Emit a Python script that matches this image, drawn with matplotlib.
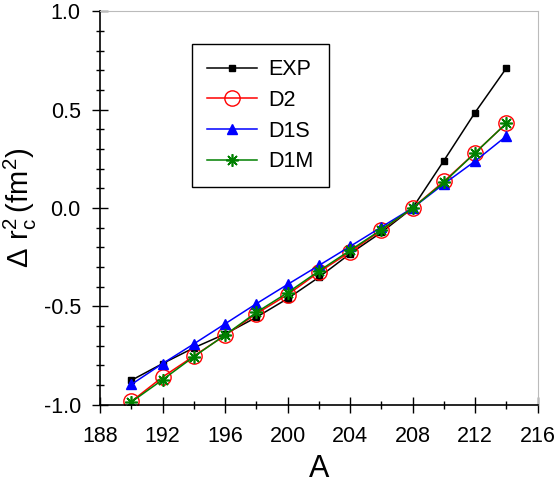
import numpy as np
import matplotlib
matplotlib.use('Agg')
import matplotlib.pyplot as plt
from matplotlib.ticker import MultipleLocator, FormatStrFormatter

plt.rcParams['font.family'] = ['Liberation Sans', 'DejaVu Sans']

# mass number A
A = [190, 192, 194, 196, 198, 200, 202, 204, 206, 208, 210, 212, 214]

# Delta r_c^2 (fm^2)
exp = [-0.875, -0.79, -0.71, -0.64, -0.555, -0.46, -0.352, -0.232, -0.124, 0.0, 0.24, 0.485, 0.71]
d2 = [-0.982, -0.858, -0.752, -0.646, -0.537, -0.44, -0.326, -0.223, -0.113, 0.0, 0.135, 0.28, 0.43]
d1s = [-0.896, -0.79, -0.69, -0.588, -0.486, -0.388, -0.292, -0.195, -0.097, 0.0, 0.122, 0.238, 0.365]
d1m = [-0.985, -0.872, -0.755, -0.645, -0.53, -0.43, -0.32, -0.215, -0.11, 0.0, 0.13, 0.28, 0.43]

fig = plt.figure(figsize=(5.57, 4.86), dpi=100, facecolor='w')
ax = fig.add_axes([0.18, 0.167, 0.785, 0.81])

ax.plot(A, exp, color='black', lw=1.1, marker='s', ms=5, label='EXP')
ax.plot(A, d2, color='red', lw=1.1, marker='o', ms=11, mfc='none', mec='red', mew=1.0, label='D2')
ax.plot(A, d1s, color='blue', lw=1.1, marker='^', ms=7, label='D1S')
ax.plot(A, d1m, color='green', lw=1.1, marker=(8, 2, 0), ms=9, mew=1.2, label='D1M')

ax.set_xlim(188, 216)
ax.set_ylim(-1.0, 1.0)
ax.xaxis.set_major_locator(MultipleLocator(4))
ax.xaxis.set_minor_locator(MultipleLocator(2))
ax.yaxis.set_major_locator(MultipleLocator(0.5))
ax.yaxis.set_minor_locator(MultipleLocator(0.1))
ax.yaxis.set_major_formatter(FormatStrFormatter('%.1f'))

ax.tick_params(which='both', direction='inout', top=False, right=False, labelsize=15.5, width=1)
ax.tick_params(which='major', length=12)
ax.tick_params(which='minor', length=6)
ax.tick_params(axis='x', pad=9)
ax.tick_params(axis='y', pad=8)

for spine in ('top', 'right'):
    ax.spines[spine].set_color('#bbbbbb')
for spine in ('left', 'bottom'):
    ax.spines[spine].set_color('black')
    ax.spines[spine].set_linewidth(1.2)

ax.set_xlabel('A', fontsize=22, labelpad=5)
ax.set_ylabel(r'$\mathregular{\Delta\ r_c^2\,(fm^2)}$', fontsize=21, labelpad=3)

legend = ax.legend(loc='upper left', bbox_to_anchor=(0.21, 0.916), borderaxespad=0,
                   fontsize=15.5, fancybox=False, edgecolor='black', framealpha=1,
                   handlelength=2.3, handletextpad=0.55, labelspacing=0.45,
                   borderpad=0.7)
legend.get_frame().set_linewidth(1.0)

fig.savefig('out.png', dpi=100)
